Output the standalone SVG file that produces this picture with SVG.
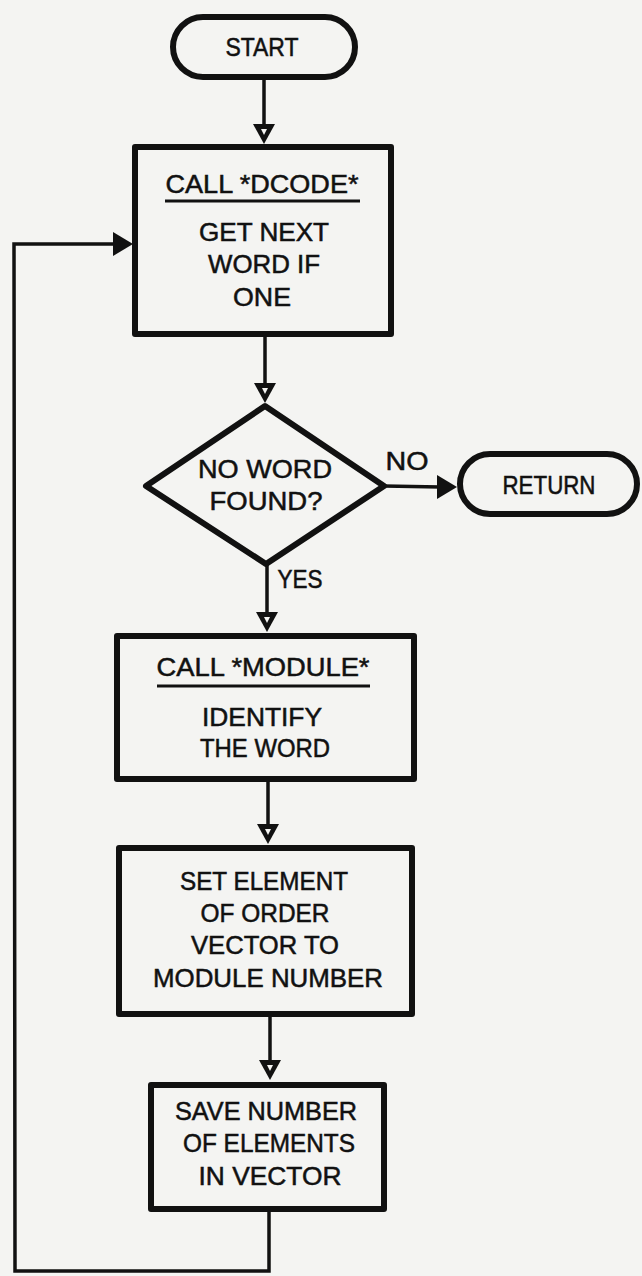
<svg xmlns="http://www.w3.org/2000/svg" xmlns:xlink="http://www.w3.org/1999/xlink" width="642" height="1276" viewBox="0 0 642 1276">
<style>
.bg{fill:#f4f4f2}
.node{fill:none;stroke:#111;stroke-width:6;stroke-linejoin:round}
.t{font-family:"Liberation Sans",Arial,sans-serif;font-size:25px;fill:#111;stroke:#111;stroke-width:0.5;text-anchor:middle}
.ul{stroke:#111;stroke-width:3}
.conn{fill:none;stroke:#111;stroke-width:3.5;stroke-linejoin:miter}
</style>
<defs>
<g id="darr"><polygon points="-11,-20 11,-20 0,0" fill="#111"/><polygon points="-3,-15 3,-15 0,-9" fill="#f4f4f2"/></g>
<g id="rarr"><polygon points="0,0 -20,-12 -20,12" fill="#111"/></g>
</defs>
<rect class="bg" x="0" y="0" width="642" height="1276"/>
<g id="connectors">
<line class="conn" x1="264" y1="80" x2="264" y2="126"/>
<use xlink:href="#darr" x="264" y="144"/>
<line class="conn" x1="265" y1="337" x2="265" y2="385"/>
<use xlink:href="#darr" x="265" y="403"/>
<line class="conn" x1="384" y1="486" x2="440" y2="487"/>
<use xlink:href="#rarr" x="457" y="487"/>
<text class="t" x="407" y="470" textLength="43" lengthAdjust="spacingAndGlyphs">NO</text>
<line class="conn" x1="267" y1="564" x2="267" y2="614"/>
<use xlink:href="#darr" x="267" y="632"/>
<text class="t" x="300" y="588" textLength="45" lengthAdjust="spacingAndGlyphs">YES</text>
<line class="conn" x1="268" y1="782" x2="268" y2="826"/>
<use xlink:href="#darr" x="268" y="844"/>
<line class="conn" x1="270" y1="1017" x2="270" y2="1062"/>
<use xlink:href="#darr" x="270" y="1080"/>
<path class="conn" d="M269,1212 L269,1271 L15,1271 L14,244 L116,244"/>
<use xlink:href="#rarr" x="133" y="244"/>
</g>
<g id="start">
<rect class="node" x="173" y="17" width="182" height="60" rx="30"/>
<text class="t" x="262" y="56" textLength="73" lengthAdjust="spacingAndGlyphs">START</text>
</g>
<g id="dcode">
<rect class="node" x="135" y="147" width="256" height="187"/>
<text class="t" x="262" y="193" textLength="193" lengthAdjust="spacingAndGlyphs">CALL *DCODE*</text>
<line class="ul" x1="165" y1="201" x2="360" y2="201"/>
<text class="t" x="264" y="241" textLength="130" lengthAdjust="spacingAndGlyphs">GET NEXT</text>
<text class="t" x="264" y="273" textLength="112" lengthAdjust="spacingAndGlyphs">WORD IF</text>
<text class="t" x="262" y="306" textLength="58" lengthAdjust="spacingAndGlyphs">ONE</text>
</g>
<g id="decision">
<polygon class="node" points="265,406 384,486 266,564 146,486"/>
<text class="t" x="265" y="478" textLength="134" lengthAdjust="spacingAndGlyphs">NO WORD</text>
<text class="t" x="266" y="510" textLength="113" lengthAdjust="spacingAndGlyphs">FOUND?</text>
</g>
<g id="return">
<rect class="node" x="460" y="454" width="177" height="60" rx="30"/>
<text class="t" x="549" y="494" textLength="93" lengthAdjust="spacingAndGlyphs">RETURN</text>
</g>
<g id="module">
<rect class="node" x="117" y="636" width="297" height="143"/>
<text class="t" x="263" y="676" textLength="213" lengthAdjust="spacingAndGlyphs">CALL *MODULE*</text>
<line class="ul" x1="157" y1="686" x2="370" y2="686"/>
<text class="t" x="262" y="726" textLength="120" lengthAdjust="spacingAndGlyphs">IDENTIFY</text>
<text class="t" x="265" y="757" textLength="130" lengthAdjust="spacingAndGlyphs">THE WORD</text>
</g>
<g id="setelement">
<rect class="node" x="119" y="848" width="293" height="166"/>
<text class="t" x="264" y="890" textLength="168" lengthAdjust="spacingAndGlyphs">SET ELEMENT</text>
<text class="t" x="265" y="922" textLength="129" lengthAdjust="spacingAndGlyphs">OF ORDER</text>
<text class="t" x="265" y="954" textLength="148" lengthAdjust="spacingAndGlyphs">VECTOR TO</text>
<text class="t" x="268" y="987" textLength="230" lengthAdjust="spacingAndGlyphs">MODULE NUMBER</text>
</g>
<g id="savenumber">
<rect class="node" x="151" y="1085" width="233" height="124"/>
<text class="t" x="266" y="1120" textLength="182" lengthAdjust="spacingAndGlyphs">SAVE NUMBER</text>
<text class="t" x="269" y="1152" textLength="172" lengthAdjust="spacingAndGlyphs">OF ELEMENTS</text>
<text class="t" x="270" y="1185" textLength="143" lengthAdjust="spacingAndGlyphs">IN VECTOR</text>
</g>
</svg>
